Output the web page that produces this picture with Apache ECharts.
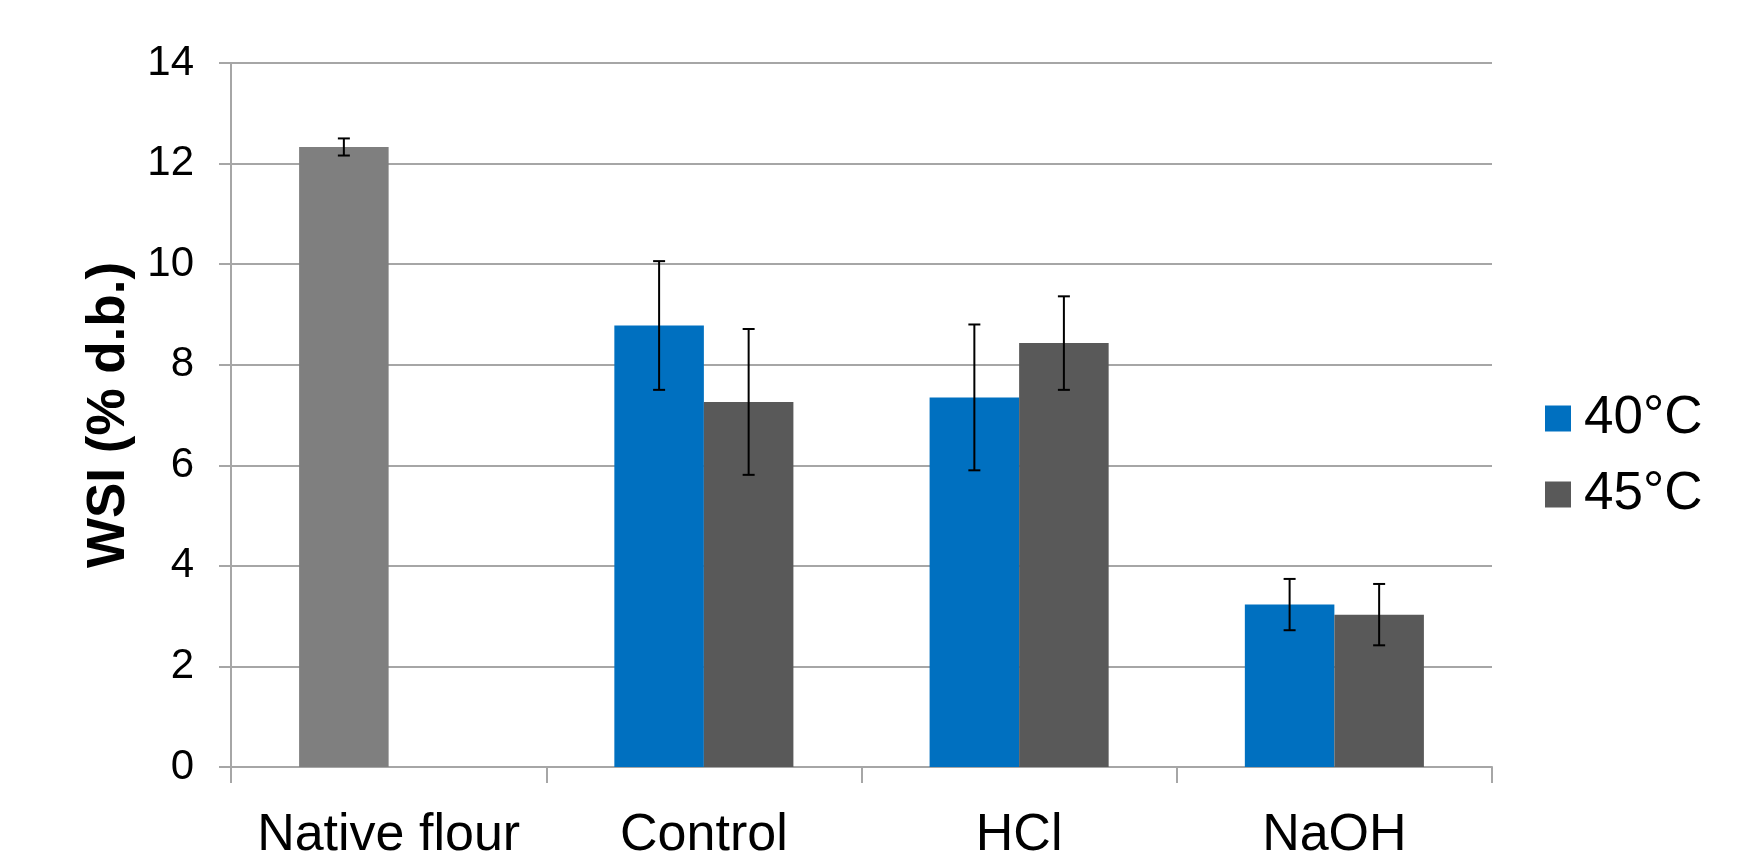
<!DOCTYPE html>
<html>
<head>
<meta charset="utf-8">
<script src="https://cdn.jsdelivr.net/npm/echarts@6/dist/echarts.min.js"></script>
<style>
  html, body { margin: 0; padding: 0; background: #fff; }
  #chart { width: 1751px; height: 855px; }
</style>
</head>
<body>
<div id="chart"></div>
<script>
// Water solubility index by treatment and drying temperature
const categories = ['Native flour', 'Control', 'HCl', 'NaOH'];
const seriesNames = ['40°C', '45°C'];
const wsi40 = [12.33, 8.78, 7.35, 3.23];
const wsi45 = [null, 7.26, 8.43, 3.03];
const sd40 = [0.17, 1.28, 1.45, 0.51];
const sd45 = [null, 1.45, 0.93, 0.61];
const yTicks = [0, 2, 4, 6, 8, 10, 12, 14];

const FONT = '"Liberation Sans", Arial, Helvetica, sans-serif';
const BLUE = '#0070c0';
const DARK = '#595959';
const NATIVE = '#7f7f7f';
const GRID = '#a6a6a6';
const BAR_FRACTION = 0.284;   // bar width as a share of one category band

// Native flour has only one sample, shown in its own grey
const bars40 = wsi40.map((v, i) =>
  i === 0 ? { value: v, itemStyle: { color: NATIVE } } : v);
const bars45 = wsi45.map(v => (v == null ? '-' : v));

function errorData(values, sds) {
  const out = [];
  values.forEach((v, i) => {
    if (v != null && sds[i] != null) out.push([i, v, sds[i]]);
  });
  return out;
}

// Whisker with caps, shifted onto the bar it belongs to
function errorRenderer(side) {
  return function (params, api) {
    const i = api.value(0);
    const v = api.value(1);
    const sd = api.value(2);
    const band = api.size([1, 0])[0];
    const dx = side * band * BAR_FRACTION / 2;
    const hi = api.coord([i, v + sd]);
    const lo = api.coord([i, v - sd]);
    const x = hi[0] + dx;
    const cap = 6;
    const style = { stroke: '#000', lineWidth: 2 };
    return {
      type: 'group',
      children: [
        { type: 'line', shape: { x1: x, y1: hi[1], x2: x, y2: lo[1] }, style },
        { type: 'line', shape: { x1: x - cap, y1: hi[1], x2: x + cap, y2: hi[1] }, style },
        { type: 'line', shape: { x1: x - cap, y1: lo[1], x2: x + cap, y2: lo[1] }, style }
      ]
    };
  };
}

const chart = echarts.init(document.getElementById('chart'), null, { renderer: 'canvas' });

chart.setOption({
  animation: false,
  backgroundColor: '#ffffff',
  textStyle: { fontFamily: FONT, color: '#000' },
  grid: {
    left: 231, right: 259, top: 63, bottom: 88,
    containLabel: false,
    outerBoundsMode: 'none'
  },
  legend: {
    data: [
      { name: seriesNames[0], itemStyle: { color: BLUE } },
      { name: seriesNames[1], itemStyle: { color: DARK } }
    ],
    orient: 'vertical',
    left: 1540,
    top: 387,
    itemWidth: 26,
    itemHeight: 26,
    itemGap: 23,
    icon: 'rect',
    textStyle: { fontFamily: FONT, fontSize: 53, color: '#000', lineHeight: 52, padding: [0, 0, 0, 8] }
  },
  xAxis: {
    type: 'category',
    data: categories,
    axisLine: { show: true, lineStyle: { color: GRID, width: 2 } },
    axisTick: { show: true, length: 16, interval: 0, lineStyle: { color: GRID, width: 2 } },
    axisLabel: { fontFamily: FONT, fontSize: 52, color: '#000', margin: 43, interval: 0 },
    splitLine: { show: false }
  },
  yAxis: {
    type: 'value',
    min: yTicks[0],
    max: yTicks[yTicks.length - 1],
    interval: 2,
    name: 'WSI (% d.b.)',
    nameLocation: 'middle',
    nameGap: 93,
    nameRotate: 90,
    nameTextStyle: { fontFamily: FONT, fontSize: 53, fontWeight: 'bold', color: '#000' },
    axisLine: { show: true, lineStyle: { color: GRID, width: 2 } },
    axisTick: { show: true, length: 12, lineStyle: { color: GRID, width: 2 } },
    axisLabel: { fontFamily: FONT, fontSize: 42, color: '#000', margin: 37 },
    splitLine: { show: true, lineStyle: { color: GRID, width: 2 } }
  },
  series: [
    {
      name: seriesNames[0],
      type: 'bar',
      data: bars40,
      barWidth: (BAR_FRACTION * 100) + '%',
      barGap: '0%',
      itemStyle: { color: BLUE }
    },
    {
      name: seriesNames[1],
      type: 'bar',
      data: bars45,
      barWidth: (BAR_FRACTION * 100) + '%',
      barGap: '0%',
      itemStyle: { color: DARK }
    },
    {
      type: 'custom',
      name: 'sd40',
      renderItem: errorRenderer(-1),
      encode: { x: 0, y: 1 },
      data: errorData(wsi40, sd40),
      z: 10
    },
    {
      type: 'custom',
      name: 'sd45',
      renderItem: errorRenderer(1),
      encode: { x: 0, y: 1 },
      data: errorData(wsi45, sd45),
      z: 10
    }
  ]
});
</script>
</body>
</html>
